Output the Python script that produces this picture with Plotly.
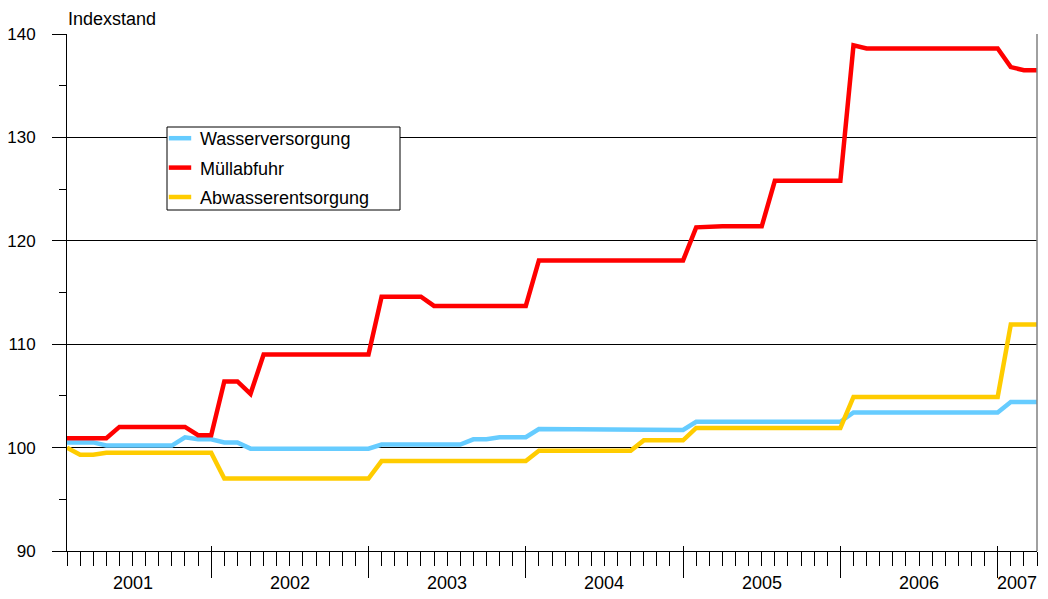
import plotly.graph_objects as go

# ---- data (monthly, Jan 2001 - Mar 2007) ----
years = [2001, 2002, 2003, 2004, 2005, 2006, 2007]
months_per_year = [12, 12, 12, 12, 12, 12, 3]
months = [f"{y}-{m:02d}" for y, n in zip(years, months_per_year) for m in range(1, n + 1)]

wasser = ([100.5] * 3 + [100.2] * 6 + [101.0] + [100.8] * 2 + [100.5] * 2 + [99.9] * 10 +
          [100.3] * 7 + [100.8] * 2 + [101.0] * 3 + [101.8] * 2 + [101.7] * 10 +
          [102.5] * 12 + [103.4] * 12 + [104.4] * 3)
muell = ([100.9] * 4 + [102.0] * 6 + [101.2] * 2 + [106.4] * 2 + [105.2] + [109.0] * 9 +
         [114.6] * 4 + [113.7] * 8 + [118.1] * 12 + [121.3] + [121.4] * 5 + [125.8] * 6 +
         [138.9] + [138.6] * 11 + [136.8] + [136.5] * 2)
abwasser = ([100.0] + [99.3] * 2 + [99.5] * 9 + [97.0] * 12 + [98.7] * 12 + [99.7] * 8 +
            [100.7] * 4 + [101.9] * 12 + [104.9] * 12 + [111.9] * 3)

series_names = ["Wasserversorgung", "Müllabfuhr", "Abwasserentsorgung"]
series_values = [wasser, muell, abwasser]
series_colors = ["#66CCFF", "#FF0000", "#FFCC00"]

x = list(range(len(months)))
dec_idx = [i for i, m in enumerate(months) if m.endswith("-12")]
year_centers = []
for y in years:
    idx = [i for i, m in enumerate(months) if m.startswith(str(y))]
    year_centers.append((idx[0] + idx[-1]) / 2 - 0.5)

FONT = "Liberation Sans, Arial, sans-serif"

# page has an 8px body margin: figure drawn at (8, 8)
W, H = 1040, 591
ML, MR, MT, MB = 59, 11, 26, 48
PW, PH = W - ML - MR, H - MT - MB


def px_x(page_x):
    return (page_x - 8 - ML) / PW


def px_y(page_y):
    return (H - MB - (page_y - 8)) / PH


fig = go.Figure()
for name, vals, col in zip(series_names, series_values, series_colors):
    fig.add_trace(go.Scatter(x=x, y=vals, mode="lines", name=name, showlegend=False,
                             line=dict(color=col, width=4.5), hoverinfo="x+y+name"))
# legend entries with a short line sample
for name, col in zip(series_names, series_colors):
    fig.add_trace(go.Scatter(x=[None], y=[None], mode="markers", name=name, legendgroup=name,
                             marker=dict(symbol="line-ew", size=18, color=col,
                                         line=dict(color=col, width=4.5))))

# overlay axis for the part of the year ticks that sticks up inside the plot
fig.add_trace(go.Scatter(x=[x[0]], y=[None], xaxis="x2", showlegend=False, hoverinfo="skip"))

fig.update_layout(
    width=W, height=H,
    margin=dict(l=ML, r=MR, t=MT, b=MB, autoexpand=False),
    paper_bgcolor="white", plot_bgcolor="white",
    font=dict(family=FONT, size=18, color="black"),
    showlegend=True,
    legend=dict(x=px_x(160), y=px_y(120), xanchor="left", yanchor="top",
                bgcolor="rgba(0,0,0,0)", borderwidth=0,
                font=dict(size=18), tracegroupgap=3, itemwidth=30),
    xaxis=dict(range=[0, len(months) - 1], showgrid=False, zeroline=False, automargin=False,
               showline=True, linecolor="black", linewidth=1,
               tickmode="array", tickvals=dec_idx, ticks="outside", ticklen=26,
               tickcolor="black", tickwidth=1, showticklabels=False,
               minor=dict(tick0=0, dtick=1, ticks="outside", ticklen=14,
                          tickcolor="black", tickwidth=1, showgrid=False)),
    xaxis2=dict(overlaying="x", matches="x", anchor="y", side="bottom", automargin=False,
                showgrid=False, zeroline=False, showline=False,
                tickmode="array", tickvals=dec_idx, ticks="inside", ticklen=5,
                tickcolor="black", tickwidth=1, showticklabels=False),
    yaxis=dict(range=[90, 140], dtick=10, tick0=90, showgrid=True, gridcolor="black",
               automargin=False,
               gridwidth=1, zeroline=False, showline=True, linecolor="black", linewidth=1,
               ticks="outside", ticklen=14, tickcolor="black", tickwidth=1,
               tickfont=dict(size=17), ticklabelstandoff=13,
               minor=dict(dtick=5, ticks="outside", ticklen=7, tickcolor="black",
                          tickwidth=1, showgrid=False)),
)

# right border of the plot area
fig.add_shape(type="line", xref="paper", yref="paper", x0=1, x1=1, y0=0, y1=1,
              line=dict(color="#808080", width=1.5))
# legend box
fig.add_shape(type="rect", xref="paper", yref="paper",
              x0=px_x(167), x1=px_x(400), y0=px_y(210), y1=px_y(127),
              fillcolor="white", line=dict(color="black", width=1), layer="above")

for yr, c in zip(years, year_centers):
    fig.add_annotation(x=c, y=-0.062, xref="x", yref="paper", text=str(yr),
                       showarrow=False, xanchor="center", yanchor="middle",
                       font=dict(size=18))

fig.add_annotation(x=0.0, y=px_y(8), xref="paper", yref="paper", text="Indexstand",
                   showarrow=False, xanchor="left", yanchor="top", borderpad=0,
                   font=dict(size=18))

fig.write_html("out.html")
